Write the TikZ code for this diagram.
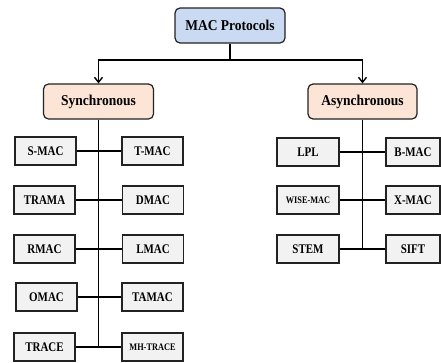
\documentclass[tikz,border=0pt]{standalone}
\usepackage{fontspec}
\setmainfont{Liberation Serif}[FakeStretch=0.9]
\newfontfamily\leaffont{Liberation Serif}[FakeStretch=0.83]
\usetikzlibrary{arrows.meta}
\definecolor{topfill}{HTML}{C9DAF2}
\definecolor{groupfill}{HTML}{FCE4D6}
\definecolor{leaffill}{HTML}{F2F2F2}
\definecolor{edge}{HTML}{222222}
\tikzset{
  headbox/.style={draw=edge, line width=1.2pt, rounded corners=5pt,
    minimum width=110pt, minimum height=35pt, inner sep=0pt,
    font=\fontsize{15}{17}\selectfont\bfseries},
  rootbox/.style={headbox, fill=topfill},
  groupbox/.style={headbox, fill=groupfill},
  leafbox/.style={draw=edge, line width=1.2pt, fill=leaffill,
    minimum width=61pt, minimum height=28pt, inner sep=0pt,
    font=\leaffont\fontsize{13.2}{15}\selectfont\bfseries},
  narrowleaf/.style={leafbox, minimum width=54pt},
  tinytext/.style={font=\leaffont\fontsize{10}{11}\selectfont\bfseries},
  link/.style={draw=black, line width=1.4pt},
  branch/.style={link, -{Straight Barb[length=5pt,width=8pt,line width=1.4pt]}}
}
\begin{document}
\begin{tikzpicture}[x=1pt, y=-1pt]
\useasboundingbox (0,0) rectangle (441,362);

% root and the two protocol families
\node[rootbox]  (mac)   at (230,25.5)  {MAC Protocols};
\node[groupbox] (sync)  at (98.5,101.5) {Synchronous};
\node[groupbox, minimum width=109pt] (async) at (362.5,101.5) {Asynchronous};

\coordinate (split) at (230,60);
\draw[link] (mac.south) -- (split);
\draw[branch] (split) -| (sync.north);
\draw[branch] (split) -| (async.north);

% synchronous protocols
\node[leafbox] (smac)  at (45.5,151) {S-MAC};
\node[leafbox] (tmac)  at (152.5,151) {T-MAC};
\node[leafbox] (trama) at (44.5,200) {TRAMA};
\node[leafbox] (dmac)  at (153,200) {DMAC};
\node[leafbox] (rmac)  at (44.5,249) {RMAC};
\node[leafbox] (lmac)  at (153,249) {LMAC};
\node[leafbox] (omac)  at (46.5,297) {OMAC};
\node[leafbox] (tamac) at (152.5,297) {TAMAC};
\node[leafbox] (trace) at (44.5,347) {TRACE};
\node[leafbox, tinytext] (mhtrace) at (152.5,347) {MH-TRACE};

\draw[link] (sync.south) -- (sync.south |- trace.east);
\foreach \l/\r in {smac/tmac, trama/dmac, rmac/lmac, omac/tamac, trace/mhtrace}
  \draw[link] (\l.east) -- (\r.west);

% asynchronous protocols
\node[leafbox, minimum width=62pt] (lpl)  at (308,152) {LPL};
\node[narrowleaf] (bmac) at (413,152) {B-MAC};
\node[leafbox, minimum width=62pt, tinytext] (wise) at (308,200) {WISE-MAC};
\node[narrowleaf] (xmac) at (413,200) {X-MAC};
\node[leafbox, minimum width=62pt] (stem) at (308,249) {STEM};
\node[narrowleaf] (sift) at (413,249) {SIFT};

\draw[link] (async.south) -- (async.south |- stem.east);
\foreach \l/\r in {lpl/bmac, wise/xmac, stem/sift}
  \draw[link] (\l.east) -- (\r.west);
\end{tikzpicture}
\end{document}
